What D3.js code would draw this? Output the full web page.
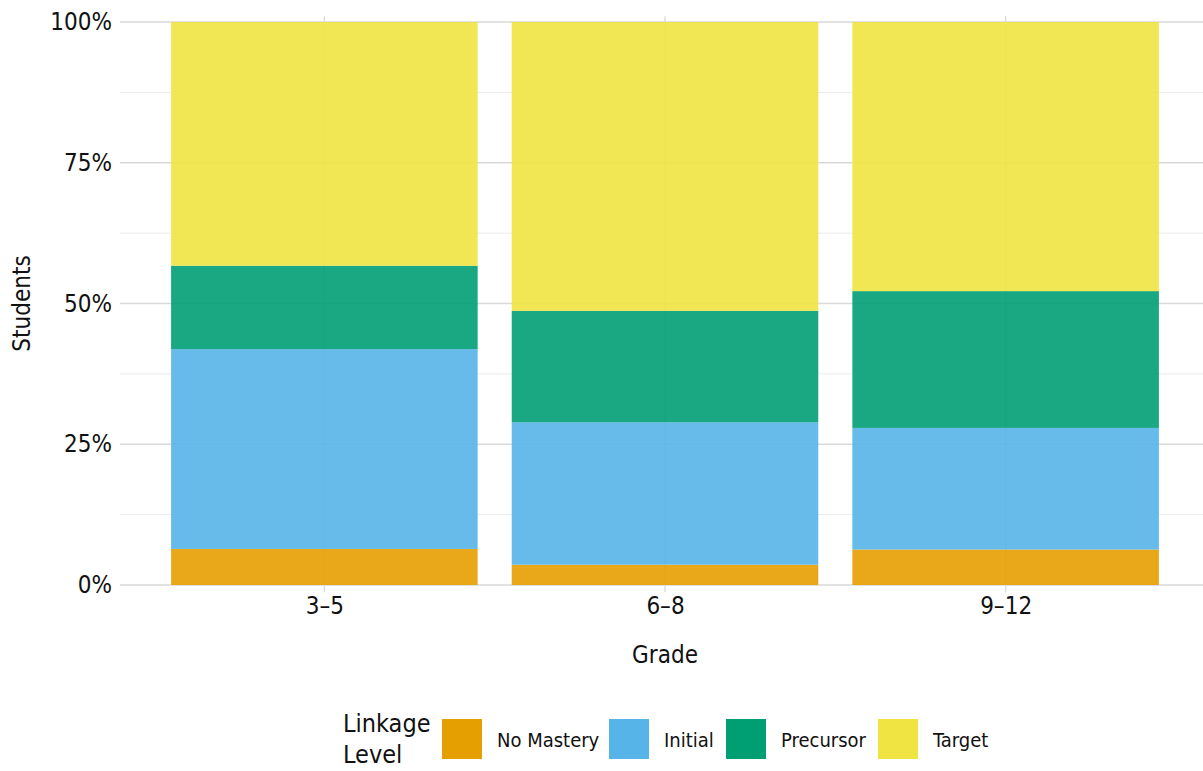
<!DOCTYPE html>
<html>
<head>
<meta charset="utf-8">
<script src="https://cdn.jsdelivr.net/npm/d3@7"></script>
<style>
  body { margin: 0; background: #fff; }
  text { font-family: "DejaVu Sans Condensed", "DejaVu Sans", sans-serif; font-stretch: condensed; fill: #111; }
</style>
</head>
<body>
<div id="container"></div>
<script>
// grade bands and linkage levels
let grades = ["3–5", "6–8", "9–12"];
let levels = ["No Mastery", "Initial", "Precursor", "Target"];
let colors = ["#E69F00", "#56B4E9", "#009E73", "#F0E442"];

// share of students per level (%)
let noMastery = [6.4, 3.6, 6.3];
let initial   = [35.5, 25.3, 21.6];
let precursor = [14.8, 19.8, 24.3];
let target    = [43.3, 51.3, 47.8];

let yTicks = [0, 0.25, 0.5, 0.75, 1];

let w = 1203;
let h = 771;
let plotLeft = 120;
let plotRight = 1210;
let plotTop = 22;
let plotBottom = 585;

let viz = d3.select("#container")
  .append("svg")
    .attr("width", w)
    .attr("height", h);

// build rows for stacking
let rows = grades.map(function(g, i){
  let total = noMastery[i] + initial[i] + precursor[i] + target[i];
  return {
    grade: g,
    "No Mastery": noMastery[i] / total,
    "Initial": initial[i] / total,
    "Precursor": precursor[i] / total,
    "Target": target[i] / total
  };
});
let stacked = d3.stack().keys(levels)(rows);

// discrete x positions like ggplot: 1..n with 0.6 expansion
let xScale = d3.scaleLinear().domain([0.4, grades.length + 0.6]).range([plotLeft, plotRight]);
let yScale = d3.scaleLinear().domain([0, 1]).range([plotBottom, plotTop]);
let colorScale = d3.scaleOrdinal().domain(levels).range(colors);
let barW = 0.9;

// grid
let grid = viz.append("g").attr("class", "grid");
let minor = d3.range(0.125, 1, 0.25);
grid.selectAll(".minor").data(minor).enter().append("line")
  .attr("x1", plotLeft).attr("x2", w)
  .attr("y1", d => yScale(d)).attr("y2", d => yScale(d))
  .attr("stroke", "#ebebeb").attr("stroke-width", 1);
grid.selectAll(".major").data(yTicks).enter().append("line")
  .attr("x1", plotLeft).attr("x2", w)
  .attr("y1", d => yScale(d)).attr("y2", d => yScale(d))
  .attr("stroke", "#d9d9d9").attr("stroke-width", 1.3);
grid.selectAll(".vmajor").data(grades).enter().append("line")
  .attr("x1", (d, i) => xScale(i + 1)).attr("x2", (d, i) => xScale(i + 1))
  .attr("y1", yScale(1.01)).attr("y2", yScale(-0.013))
  .attr("stroke", "#d9d9d9").attr("stroke-width", 1.3);

// bars
let barGroup = viz.append("g").attr("class", "bars");
barGroup.selectAll(".layer").data(stacked).enter().append("g")
    .attr("class", "layer")
    .attr("fill", d => colorScale(d.key))
    .attr("fill-opacity", 0.9)
  .selectAll("rect").data(d => d).enter().append("rect")
    .attr("x", (d, i) => xScale(i + 1 - barW / 2))
    .attr("width", xScale(barW) - xScale(0))
    .attr("y", d => yScale(d[1]))
    .attr("height", d => yScale(d[0]) - yScale(d[1]));

// y axis
let yAxis = d3.axisLeft(yScale).tickValues(yTicks).tickFormat(d3.format(".0%")).tickSize(0).tickPadding(8);
let yAxisGroup = viz.append("g")
    .attr("class", "yaxisgroup")
    .attr("transform", "translate(" + plotLeft + ",0)")
    .call(yAxis);
yAxisGroup.select(".domain").remove();
yAxisGroup.selectAll("text").style("font-size", "24px").attr("fill", "#111");

// x axis
let xAxis = d3.axisBottom(xScale).tickValues([1, 2, 3]).tickFormat(d => grades[d - 1]).tickSize(0).tickPadding(12);
let xAxisGroup = viz.append("g")
    .attr("class", "xaxisgroup")
    .attr("transform", "translate(0," + plotBottom + ")")
    .call(xAxis);
xAxisGroup.select(".domain").remove();
xAxisGroup.selectAll("text").style("font-size", "24px").attr("fill", "#111");

// axis titles
viz.append("text")
  .attr("x", xScale(2)).attr("y", 663)
  .attr("text-anchor", "middle")
  .style("font-size", "24px")
  .text("Grade");
viz.append("text")
  .attr("transform", "translate(30," + ((plotTop + plotBottom) / 2) + ") rotate(-90)")
  .attr("text-anchor", "middle")
  .style("font-size", "24px")
  .text("Students");

// legend
let legend = viz.append("g").attr("class", "legend");
legend.append("text").attr("x", 343).attr("y", 732).style("font-size", "25px").text("Linkage");
legend.append("text").attr("x", 343).attr("y", 763).style("font-size", "25px").text("Level");
let keyX = [442, 609, 726, 878];
let items = legend.selectAll(".item").data(levels).enter().append("g")
  .attr("class", "item")
  .attr("transform", (d, i) => "translate(" + keyX[i] + ",719)");
items.append("rect")
  .attr("width", 40).attr("height", 40)
  .attr("fill", d => colorScale(d));
items.append("text")
  .attr("x", 55).attr("y", 28)
  .style("font-size", "20px")
  .text(d => d);
</script>
</body>
</html>
